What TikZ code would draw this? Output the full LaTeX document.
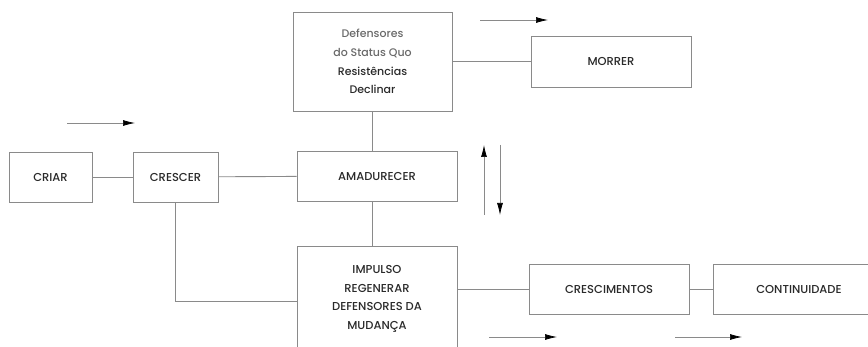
\documentclass[tikz,border=0pt]{standalone}
\usepackage{fontspec}
\setmainfont{Poppins}[UprightFont=*-Medium]
\usetikzlibrary{arrows.meta}
\definecolor{edge}{HTML}{8A8A8A}
\definecolor{ink}{HTML}{2A2A2A}
\definecolor{soft}{HTML}{6A6A6A}
\begin{document}
\begin{tikzpicture}[x=1pt,y=-1pt,
  box/.style={draw=edge,line width=0.9pt,rectangle,inner sep=0pt,align=center,text=ink,font=\fontsize{11.5}{18.7}\selectfont},
  link/.style={draw=edge,line width=0.9pt},
  flow/.style={draw=edge,line width=0.7pt,-{Latex[length=12pt,width=6pt,color=black]}}]
\clip (0,0) rectangle (868,347);
\fill[white] (0,0) rectangle (868,347);
\node[box,minimum width=159pt,minimum height=99pt,font=\fontsize{11}{18.7}\selectfont] (top) at (372.5,61.5)
  {\textcolor{soft}{Defensores}\\\textcolor{soft}{do Status Quo}\\Resistências\\Declinar};
\node[box,minimum width=160pt,minimum height=51pt] (morrer) at (611,61.5) {MORRER};
\node[box,minimum width=83pt,minimum height=50pt] (criar) at (50.5,177) {CRIAR};
\node[box,minimum width=85pt,minimum height=50pt] (crescer) at (175.5,177) {CRESCER};
\node[box,minimum width=160pt,minimum height=50pt] (amad) at (377,176) {AMADURECER};
\node[box,minimum width=160pt,minimum height=106pt] (impulso) at (377,299)
  {IMPULSO\\REGENERAR\\DEFENSORES DA\\MUDANÇA};
\node[box,minimum width=160pt,minimum height=50pt] (cresc) at (609,289) {CRESCIMENTOS};
\node[box,minimum width=172pt,minimum height=50pt] (cont) at (799,289) {CONTINUIDADE};
\draw[link] (top.east) -- (morrer.west);
\draw[link] (criar) -- (crescer);
\draw[link] (crescer) -- (amad);
\draw[link] (top.south) -- (top.south |- amad.north);
\draw[link] (top.south |- amad.south) -- (top.south |- impulso.north);
\draw[link] (crescer.south) |- ([yshift=-2pt]impulso.west);
\draw[link] (impulso.east |- cresc.west) -- (cresc.west);
\draw[link] (cresc) -- (cont);
\coordinate (a1s) at (67,123); \coordinate (a1e) at (135,123);
\coordinate (a2s) at (480,20); \coordinate (a2e) at (548,20);
\coordinate (ups) at (484,215); \coordinate (upe) at (484,145);
\coordinate (dns) at (500,145); \coordinate (dne) at (500,215);
\coordinate (a3s) at (489,337); \coordinate (a3e) at (557,337);
\coordinate (a4s) at (675,337); \coordinate (a4e) at (742,337);
\draw[flow] (a1s) -- (a1e);
\draw[flow] (a2s) -- (a2e);
\draw[flow] (ups) -- (upe);
\draw[flow] (dns) -- (dne);
\draw[flow] (a3s) -- (a3e);
\draw[flow] (a4s) -- (a4e);
\end{tikzpicture}
\end{document}
